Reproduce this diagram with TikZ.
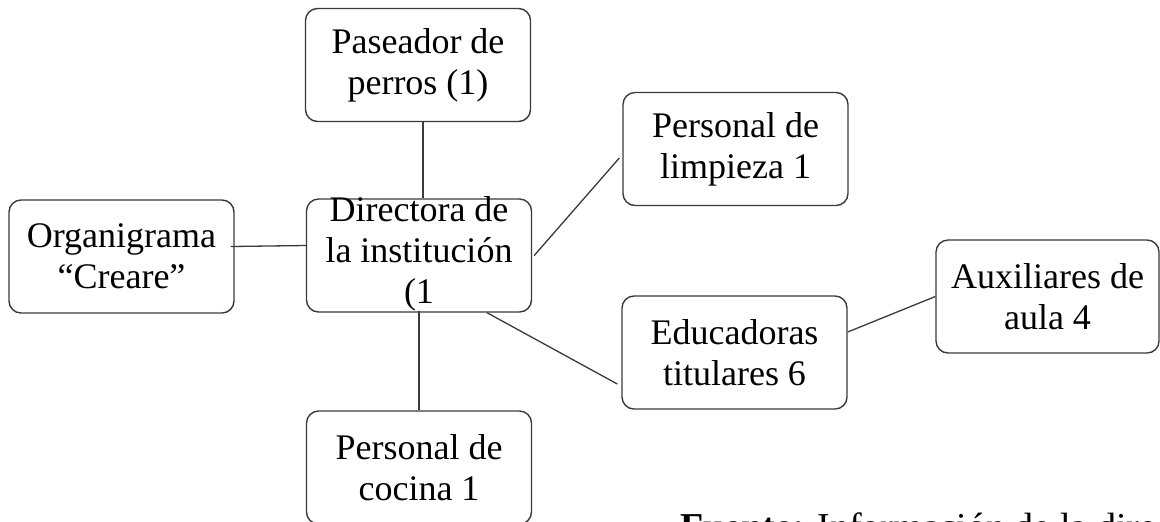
\documentclass[tikz,border=0pt]{standalone}
\usepackage{fontspec}
\setmainfont{Liberation Serif}
\definecolor{edge}{HTML}{3A3A3A}
\begin{document}
\begin{tikzpicture}[x=0.5pt,y=-0.5pt,
  orgbox/.style={draw=edge,line width=0.7pt,rounded corners=6pt,minimum width=112.5pt,minimum height=56.5pt,inner sep=0pt},
  txt/.style={align=center,inner sep=0pt,font=\fontsize{18pt}{20.5pt}\selectfont},
  link/.style={draw=edge,line width=0.65pt}]
\useasboundingbox (0,0) rectangle (1160,521);
\clip (0,0) rectangle (1160,521);
% boxes
\node[orgbox] (pas) at (418,65) {};
\node[orgbox] (org) at (121.5,256.5) {};
\node[orgbox] (dir) at (419,255.5) {};
\node[orgbox] (lim) at (735.5,149) {};
\node[orgbox] (edu) at (734.5,352.5) {};
\node[orgbox,minimum width=111.5pt] (aux) at (1047.5,296.5) {};
\node[orgbox] (coc) at (419,467.5) {};
% texts
\node[txt] (past) at (pas) {Paseador de\\perros (1)};
\node[txt] (orgt) at (org) {Organigrama\\“Creare”};
\node[txt] (dirt) at ([yshift=1pt]dir.center) {Directora de\\la institución\\(1};
\node[txt] (limt) at (lim) {Personal de\\limpieza 1};
\node[txt] (edut) at (edu) {Educadoras\\titulares 6};
\node[txt] (auxt) at (aux) {Auxiliares de\\aula 4};
\node[txt] (coct) at (coc) {Personal de\\cocina 1};
% connectors
\draw[link] ([xshift=2.5pt]pas.south) -- ([xshift=2pt]dir.north);
\draw[link] ([xshift=-2pt,yshift=5pt]org.east) -- ([yshift=5pt]dir.west);
\draw[link] ([xshift=1pt]dir.east) -- ([xshift=-1.5pt,yshift=-4.5pt]lim.west);
\draw[link] ([xshift=34pt]dir.south) -- ([xshift=-2pt,yshift=-15.75pt]edu.west);
\draw[link] ([yshift=1pt]dir.south) -- (coc.north);
\draw[link] ([yshift=10.25pt]edu.east) -- (aux.west);
% source line (cut by the page edge)
\node[anchor=base west,inner sep=0pt,font=\fontsize{19pt}{22pt}\selectfont] (src) at (680,539) {\textbf{Fuente:} Información de la dirección};
\end{tikzpicture}
\end{document}
